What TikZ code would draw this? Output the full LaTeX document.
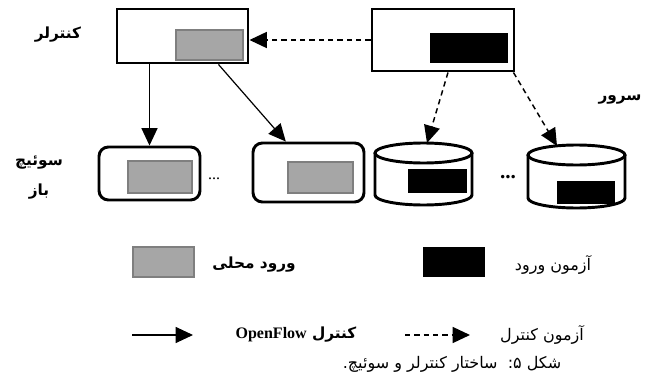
\documentclass[tikz,border=0pt]{standalone}
\usepackage{fontspec}
\setmainfont{Liberation Serif}
\newfontfamily\farsi[Script=Arabic]{DejaVu Sans}
\TeXXeTstate=1
\usetikzlibrary{arrows.meta}
\definecolor{entrygray}{HTML}{A6A6A6}
\definecolor{entryedge}{HTML}{7F7F7F}

\begin{document}
\begin{tikzpicture}[x=0.75pt, y=-0.75pt,
    box/.style={draw, line width=2.2pt, inner sep=0pt},
    localentry/.style={draw=entryedge, fill=entrygray, line width=1.6pt, inner sep=0pt},
    testentry/.style={fill=black, inner sep=0pt},
    drum/.style={line width=2.2pt},
    flowarrow/.style={-{Triangle[length=13pt, width=12pt]}, line width=0.9pt},
    testarrow/.style={-{Triangle[length=13pt, width=12pt]}, line width=1.1pt, dash pattern=on 4pt off 3pt},
    tag/.style={font=\farsi\fontsize{11.5}{13}\selectfont\bfseries},
    plaintag/.style={font=\farsi\fontsize{12}{14}\selectfont}]
    \useasboundingbox (0,0) rectangle (651,389);

    % Controller
    \node[box, minimum width=98.25pt, minimum height=40.5pt] (ctrl) at (182.5,36) {};
    \node[localentry, minimum width=50.25pt, minimum height=22.5pt] (ctrlentry) at (209.5,45) {};
    \node[tag] (ctrltxt) at (58,35) {\beginR کنترلر\endR};

    % Server
    \node[box, minimum width=106.5pt, minimum height=46.5pt] (srv) at (443,40) {};
    \node[testentry, minimum width=58.5pt, minimum height=22.5pt] (srvtest) at (469,48) {};
    \node[tag] (srvtxt) at (620,100) {\beginR سرور\endR};
    \draw[testarrow] (srv.west) -- (srv.west -| ctrl.east);

    % Open switches
    \node[box, rounded corners=7pt, minimum width=75.75pt, minimum height=39.75pt] (sw1) at (149.5,173.5) {};
    \node[localentry, minimum width=48pt, minimum height=24pt] (sw1entry) at (160,177) {};
    \node[box, rounded corners=7pt, minimum width=83.25pt, minimum height=44.25pt] (sw2) at (308.5,172.5) {};
    \node[localentry, minimum width=48.75pt, minimum height=23.25pt] (sw2entry) at (320.5,177.5) {};
    \node (dotsA) at (214,179) {\fontsize{12}{14}\selectfont...};
    \node[tag] (swtxt) at (39,163) {\beginR سوئیچ\endR};
    \node[tag] (swtxtb) at (39,192) {\beginR باز\endR};
    \draw[flowarrow] (sw1.north |- ctrl.south) -- (sw1.north);
    \draw[flowarrow] ([xshift=27pt]ctrl.south) -- ([xshift=-17pt]sw2.north);

    % Switches with test entries
    \draw[drum] (375,153) -- (375,195) arc[start angle=180, end angle=0, x radius=48.5, y radius=10] -- (472,153);
    \draw[drum] (423.5,153) ellipse[x radius=48.5, y radius=10];
    \node[testentry, minimum width=44.25pt, minimum height=18pt] (db1test) at (437.5,181) {};
    \draw[drum] (528,155) -- (528,198) arc[start angle=180, end angle=0, x radius=48.5, y radius=10] -- (625,155);
    \draw[drum] (576.5,155) ellipse[x radius=48.5, y radius=10];
    \node[testentry, minimum width=43.5pt, minimum height=17.25pt] (db2test) at (586,192.5) {};
    \coordinate (db1top) at (427,143);
    \coordinate (db2top) at (557,146);
    \node (dotsB) at (508,177) {\fontsize{16}{18}\selectfont\textbf{...}};
    \draw[testarrow] ([xshift=3.75pt]srv.south) -- (db1top);
    \draw[testarrow] ([xshift=-1.5pt]srv.south east) -- (db2top);

    % Legend
    \node[localentry, minimum width=45.75pt, minimum height=22.5pt] (keyentry) at (163.5,262) {};
    \node[tag] (keyentrytxt) at (254,265) {\beginR ورود محلی\endR};
    \node[testentry, minimum width=46.5pt, minimum height=22.5pt] (keytest) at (453.5,262) {};
    \node[plaintag] (keytesttxt) at (553,265) {\beginR آزمون ورود\endR};
    \coordinate (flowA) at (132,335);
    \coordinate (flowB) at (193,335);
    \draw[flowarrow] (flowA) -- (flowB);
    \node[tag] (flowtxt) at (296,335) {\beginR کنترل \beginL{\rmfamily\bfseries\fontsize{12}{14}\selectfont OpenFlow}\endL\endR};
    \coordinate (testA) at (405,335);
    \coordinate (testB) at (470,335);
    \draw[testarrow] (testA) -- (testB);
    \node[plaintag] (testtxt) at (542,335) {\beginR آزمون کنترل\endR};
    \node[plaintag] (caption) at (452,364) {\beginR شکل ۵:\ \ ساختار کنترلر و سوئیچ.\endR};
\end{tikzpicture}
\end{document}
